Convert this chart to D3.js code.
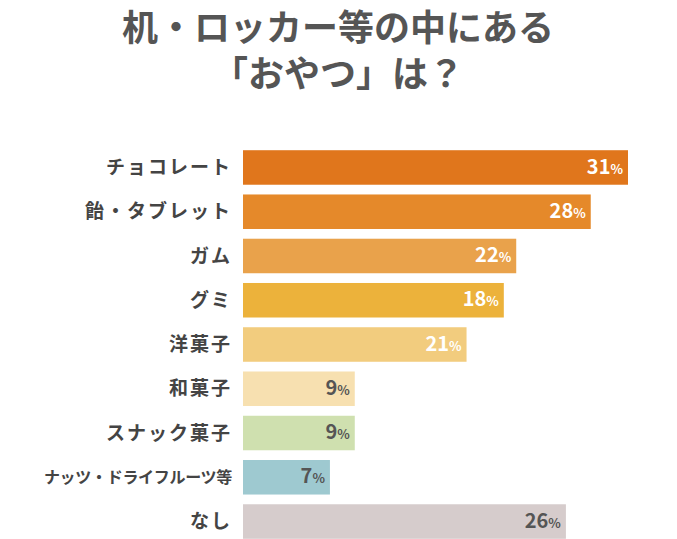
<!DOCTYPE html>
<html><head><meta charset="utf-8">
<script src="https://cdn.jsdelivr.net/npm/d3@7"></script>
<style>body{margin:0;background:#fff}</style>
</head><body><svg id="c" width="677" height="539"></svg>
<script>
const titleLines = ["机・ロッカー等の中にある", "「おやつ」は？"];
const categories = ["チョコレート","飴・タブレット","ガム","グミ","洋菓子","和菓子","スナック菓子","ナッツ・ドライフルーツ等","なし"];
// bar lengths as drawn in the picture
const values = [31, 28, 22, 21, 18, 9, 9, 7, 26];
// labels as printed on the bars
const valueLabels = ["31", "28", "22", "18", "21", "9", "9", "7", "26"];
const colors = ["#e0761c","#e5892a","#e9a24b","#ecb23b","#f2cc7e","#f7e0b0","#cfe0af","#9ec9d0","#d6cccc"];
const darkLabel = [false,false,false,false,false,true,true,true,true];

const svg = d3.select("#c");
const font = "'Noto Sans CJK JP', sans-serif";

svg.selectAll("text.title").data(titleLines).join("text")
  .attr("x", 338).attr("y", (d, i) => 41 + i * 46)
  .attr("text-anchor", "middle").attr("font-family", font)
  .attr("font-weight", 700).attr("font-size", 36).attr("fill", "#555")
  .text(d => d);

const x = d3.scaleLinear().domain([0, 31]).range([243, 628]);
const y = d3.scaleBand().domain(categories).range([148, 541]).paddingInner(0.22).paddingOuter(0.05);

const g = svg.append("g");
g.selectAll("rect").data(categories).join("rect")
  .attr("x", x(0)).attr("y", d => y(d))
  .attr("width", (d, i) => x(values[i]) - x(0)).attr("height", y.bandwidth())
  .attr("fill", (d, i) => colors[i]);

g.selectAll("text.cat").data(categories).join("text")
  .attr("class", "cat")
  .attr("x", 232).attr("y", d => y(d) + y.bandwidth() / 2)
  .attr("dy", "0.35em").attr("text-anchor", "end")
  .attr("font-family", font).attr("font-weight", 700)
  .attr("font-size", d => d.length > 8 ? 16 : 19)
  .attr("letter-spacing", d => d.length > 8 ? -0.3 : 2)
  .attr("fill", "#444").text(d => d);

const vl = g.selectAll("text.val").data(categories).join("text")
  .attr("class", "val")
  .attr("x", (d, i) => x(values[i]) - 5).attr("y", d => y(d) + y.bandwidth() / 2)
  .attr("dy", "0.38em").attr("text-anchor", "end")
  .attr("font-family", font).attr("font-weight", 700)
  .attr("fill", (d, i) => darkLabel[i] ? "#555" : "#fff");
vl.append("tspan").attr("font-size", 20).text((d, i) => valueLabels[i]);
vl.append("tspan").attr("font-size", 13).text("%");
</script></body></html>
